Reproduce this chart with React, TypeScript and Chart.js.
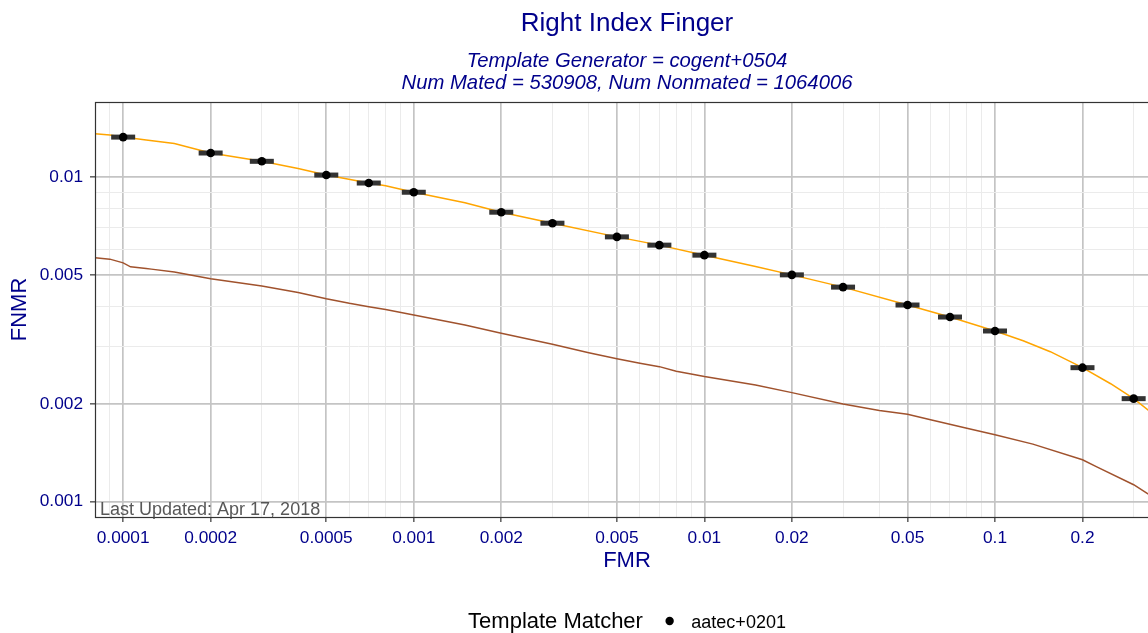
import React, { useEffect, useRef } from 'react';
import { Chart, registerables } from 'chart.js';

Chart.register(...registerables);

const FONT = '"Liberation Sans", Arial, Helvetica, sans-serif';
const DARK_BLUE = '#00008B';
const MAJOR_GRID = '#c4c4c4';
const MINOR_GRID = '#ebebeb';

const titleText = 'Right Index Finger';
const subtitleLines = ['Template Generator = cogent+0504', 'Num Mated = 530908, Num Nonmated = 1064006'];
const xTitle = 'FMR';
const yTitle = 'FNMR';
const legendTitle = 'Template Matcher';
const legendLabel = 'aatec+0201';
const footnote = 'Last Updated: Apr 17, 2018';

const X_MIN = 0.00008;
const X_MAX = 0.3667;
const Y_MIN = 0.0008971;
const Y_MAX = 0.017063;

// panel geometry (the panel runs past the right edge of the picture)
const PANEL = { left: 95, right: 1159, top: 102, bottom: 517, axisBottom: 590 };

const xMajorTicks = [0.0001, 0.0002, 0.0005, 0.001, 0.002, 0.005, 0.01, 0.02, 0.05, 0.1, 0.2];
const xTickLabels = ['0.0001', '0.0002', '0.0005', '0.001', '0.002', '0.005', '0.01', '0.02', '0.05', '0.1', '0.2'];
const xMinorTicks = [0.00009, 0.0003, 0.0004, 0.0006, 0.0007, 0.0008, 0.0009, 0.003, 0.004, 0.006, 0.007, 0.008, 0.009, 0.03, 0.04, 0.06, 0.07, 0.08, 0.09, 0.3];

const yMajorTicks = [0.001, 0.002, 0.005, 0.01];
const yTickLabels = ['0.001', '0.002', '0.005', '0.01'];
const yMinorTicks = [0.003, 0.004, 0.006, 0.007, 0.008, 0.009];

// Operating points (aatec+0201)
const pointFmr = [0.0001, 0.0002, 0.0003, 0.0005, 0.0007, 0.001, 0.002, 0.003, 0.005, 0.007, 0.01, 0.02, 0.03, 0.05, 0.07, 0.1, 0.2, 0.3];
const pointFnmr = [0.0133, 0.01188, 0.0112, 0.01016, 0.0096, 0.008992, 0.007805, 0.007219, 0.006551, 0.006178, 0.005754, 0.005003, 0.004586, 0.004039, 0.003709, 0.003359, 0.002589, 0.002078];

// Orange DET curve
const orangeFmr = [0.00008, 0.00009, 0.0001, 0.00012, 0.00015, 0.0002, 0.0003, 0.0004, 0.0005, 0.0007, 0.0008, 0.001, 0.0015, 0.002, 0.003, 0.005, 0.007, 0.01, 0.015, 0.02, 0.03, 0.05, 0.07, 0.1, 0.125, 0.155, 0.2, 0.25, 0.3, 0.336, 0.36];
const orangeFnmr = [0.01361, 0.01349, 0.0133, 0.01304, 0.0127, 0.01188, 0.0112, 0.01064, 0.01016, 0.0096, 0.009415, 0.008992, 0.008347, 0.007805, 0.007219, 0.006551, 0.006178, 0.005754, 0.005305, 0.005003, 0.004586, 0.004039, 0.003709, 0.003359, 0.003135, 0.0029, 0.002589, 0.00231, 0.002078, 0.001919, 0.00182];

// Brown DET curve
const brownFmr = [0.00008, 0.00009, 0.0001, 0.000106, 0.00012, 0.000125, 0.00015, 0.0002, 0.0003, 0.0004, 0.0005, 0.0006, 0.0007, 0.0008, 0.001, 0.0015, 0.002, 0.003, 0.004, 0.005, 0.006, 0.007, 0.008, 0.009, 0.01, 0.015, 0.02, 0.03, 0.04, 0.05, 0.06, 0.08, 0.1, 0.135, 0.2, 0.224, 0.3, 0.336, 0.36];
const brownFnmr = [0.005645, 0.005593, 0.005447, 0.005297, 0.005237, 0.005211, 0.005102, 0.004865, 0.004619, 0.004417, 0.004221, 0.004087, 0.00399, 0.003912, 0.003762, 0.003504, 0.003304, 0.003056, 0.00288, 0.00276, 0.002672, 0.002608, 0.002525, 0.002477, 0.00243, 0.002291, 0.002169, 0.002002, 0.001909, 0.001861, 0.001788, 0.001683, 0.001608, 0.001505, 0.001347, 0.001281, 0.001128, 0.001058, 0.00101];

const toXY = (xs: number[], ys: number[]) => xs.map((x, i) => ({ x, y: ys[i] }));

const sameVal = (a: number, b: number) => Math.abs(Math.log10(a) - Math.log10(b)) < 1e-6;
const isMajor = (v: number | undefined, majors: number[]) => v !== undefined && majors.some((m) => sameVal(m, v));
const labelFor = (v: number, majors: number[], labels: string[]) => {
  const i = majors.findIndex((m) => sameVal(m, v));
  return i >= 0 ? labels[i] : '';
};

// Pin the plot panel to the reference geometry.
const panelPlugin = {
  id: 'panelPlugin',
  afterLayout(chart: any) {
    const ca = chart.chartArea;
    ca.left = PANEL.left;
    ca.right = PANEL.right;
    ca.top = PANEL.top;
    ca.bottom = PANEL.bottom;
    ca.width = PANEL.right - PANEL.left;
    ca.height = PANEL.bottom - PANEL.top;
    const xs = chart.scales.x;
    xs.left = PANEL.left;
    xs.right = PANEL.right;
    xs.width = PANEL.right - PANEL.left;
    xs.top = PANEL.bottom;
    xs.bottom = PANEL.axisBottom;
    xs.height = PANEL.axisBottom - PANEL.bottom;
    xs.configure();
    const ys = chart.scales.y;
    ys.left = 0;
    ys.right = PANEL.left;
    ys.width = PANEL.left;
    ys.top = PANEL.top;
    ys.bottom = PANEL.bottom;
    ys.height = PANEL.bottom - PANEL.top;
    ys.configure();
  },
};

const textPlugin = {
  id: 'textPlugin',
  afterDraw(chart: any) {
    const ctx = chart.ctx as CanvasRenderingContext2D;
    const { left, top, right, bottom } = chart.chartArea;
    const cx = (left + right) / 2;
    ctx.save();
    // panel border
    ctx.strokeStyle = '#333333';
    ctx.lineWidth = 1.2;
    ctx.strokeRect(left + 0.5, top + 0.5, right - left, bottom - top);

    // footnote
    ctx.fillStyle = 'rgba(70,70,70,0.9)';
    ctx.font = `18px ${FONT}`;
    ctx.textAlign = 'left';
    ctx.textBaseline = 'alphabetic';
    ctx.fillText(footnote, left + 5, bottom - 2.5);

    // title
    ctx.fillStyle = DARK_BLUE;
    ctx.textAlign = 'center';
    ctx.font = `26px ${FONT}`;
    ctx.fillText(titleText, cx, 31);
    ctx.font = `italic 20.3px ${FONT}`;
    ctx.fillText(subtitleLines[0], cx, 67);
    ctx.fillText(subtitleLines[1], cx, 89);

    // legend
    ctx.fillStyle = '#000000';
    ctx.font = `22px ${FONT}`;
    const w1 = ctx.measureText(legendTitle).width;
    ctx.font = `18px ${FONT}`;
    const w2 = ctx.measureText(legendLabel).width;
    const gap1 = 26.7;
    const gap2 = 21.7;
    const total = w1 + gap1 + gap2 + w2;
    let x = cx - total / 2;
    const ly = 628;
    ctx.textAlign = 'left';
    ctx.font = `22px ${FONT}`;
    ctx.fillText(legendTitle, x, ly);
    x += w1 + gap1;
    ctx.beginPath();
    ctx.arc(x, 621, 4.2, 0, Math.PI * 2);
    ctx.fill();
    x += gap2;
    ctx.font = `18px ${FONT}`;
    ctx.fillText(legendLabel, x, ly);
    ctx.restore();
  },
};

export default function App() {
  const ref = useRef<HTMLCanvasElement | null>(null);

  useEffect(() => {
    if (!ref.current) return;
    const xAll = [...xMajorTicks, ...xMinorTicks].sort((a, b) => a - b);
    const yAll = [...yMajorTicks, ...yMinorTicks].sort((a, b) => a - b);

    const chart = new Chart(ref.current, {
      type: 'scatter',
      data: {
        datasets: [
          {
            label: 'points',
            data: toXY(pointFmr, pointFnmr),
            showLine: false,
            pointRadius: 4.3,
            pointBackgroundColor: '#000000',
            pointBorderWidth: 0,
            pointBorderColor: '#000000',
          },
          {
            label: 'bars',
            data: toXY(pointFmr, pointFnmr),
            showLine: false,
            pointStyle: 'line',
            pointRadius: 12,
            pointBorderWidth: 5,
            pointBorderColor: '#333333',
            pointBackgroundColor: '#333333',
          },
          {
            label: 'orange',
            data: toXY(orangeFmr, orangeFnmr),
            showLine: true,
            borderColor: '#FFA500',
            borderWidth: 1.5,
            pointRadius: 0,
            tension: 0,
          },
          {
            label: 'brown',
            data: toXY(brownFmr, brownFnmr),
            showLine: true,
            borderColor: '#A0522D',
            borderWidth: 1.5,
            pointRadius: 0,
            tension: 0,
          },
        ],
      },
      options: {
        animation: false,
        responsive: false,
        devicePixelRatio: 1,
        events: [],
        layout: { padding: { left: 0, top: 102, right: 0, bottom: 43 } },
        plugins: {
          legend: { display: false },
          title: { display: false },
          tooltip: { enabled: false },
        },
        scales: {
          x: {
            type: 'logarithmic',
            position: 'bottom',
            min: X_MIN,
            max: X_MAX,
            bounds: 'data',
            afterBuildTicks: (s: any) => {
              s.ticks = xAll.map((v) => ({ value: v }));
            },
            afterFit: (s: any) => {
              s.height = 73;
            },
            ticks: {
              autoSkip: false,
              maxRotation: 0,
              minRotation: 0,
              padding: 6,
              color: DARK_BLUE,
              font: { family: FONT, size: 17.3 },
              callback: (v: any) => labelFor(Number(v), xMajorTicks, xTickLabels),
            },
            grid: {
              color: (c: any) => (isMajor(c.tick?.value, xMajorTicks) ? MAJOR_GRID : MINOR_GRID),
              lineWidth: (c: any) => (isMajor(c.tick?.value, xMajorTicks) ? 1.7 : 1),
              tickColor: (c: any) => (isMajor(c.tick?.value, xMajorTicks) ? '#333333' : 'rgba(0,0,0,0)'),
              tickLength: 5,
              tickWidth: 1.2,
              drawTicks: true,
            },
            border: { display: false },
            title: {
              display: true,
              text: xTitle,
              color: DARK_BLUE,
              font: { family: FONT, size: 22 },
              padding: { top: 0, bottom: 16 },
            },
          },
          y: {
            type: 'logarithmic',
            position: 'left',
            min: Y_MIN,
            max: Y_MAX,
            bounds: 'data',
            afterBuildTicks: (s: any) => {
              s.ticks = yAll.map((v) => ({ value: v }));
            },
            afterFit: (s: any) => {
              s.width = 95;
            },
            ticks: {
              autoSkip: false,
              padding: 7,
              color: DARK_BLUE,
              font: { family: FONT, size: 17.3 },
              callback: (v: any) => labelFor(Number(v), yMajorTicks, yTickLabels),
            },
            grid: {
              color: (c: any) => (isMajor(c.tick?.value, yMajorTicks) ? MAJOR_GRID : MINOR_GRID),
              lineWidth: (c: any) => (isMajor(c.tick?.value, yMajorTicks) ? 1.7 : 1),
              tickColor: (c: any) => (isMajor(c.tick?.value, yMajorTicks) ? '#333333' : 'rgba(0,0,0,0)'),
              tickLength: 5,
              tickWidth: 1.2,
              drawTicks: true,
            },
            border: { display: false },
            title: {
              display: true,
              text: yTitle,
              color: DARK_BLUE,
              font: { family: FONT, size: 22 },
              padding: { top: 7, bottom: 0 },
            },
          },
        },
      },
      plugins: [panelPlugin, textPlugin],
    } as any);

    return () => chart.destroy();
  }, []);

  return (
    <div
      style={{
        position: 'fixed',
        left: 0,
        top: 0,
        width: 1148,
        height: 633,
        overflow: 'hidden',
        background: '#ffffff',
      }}
    >
      <canvas ref={ref} width={1148} height={633} style={{ display: 'block' }} />
    </div>
  );
}
